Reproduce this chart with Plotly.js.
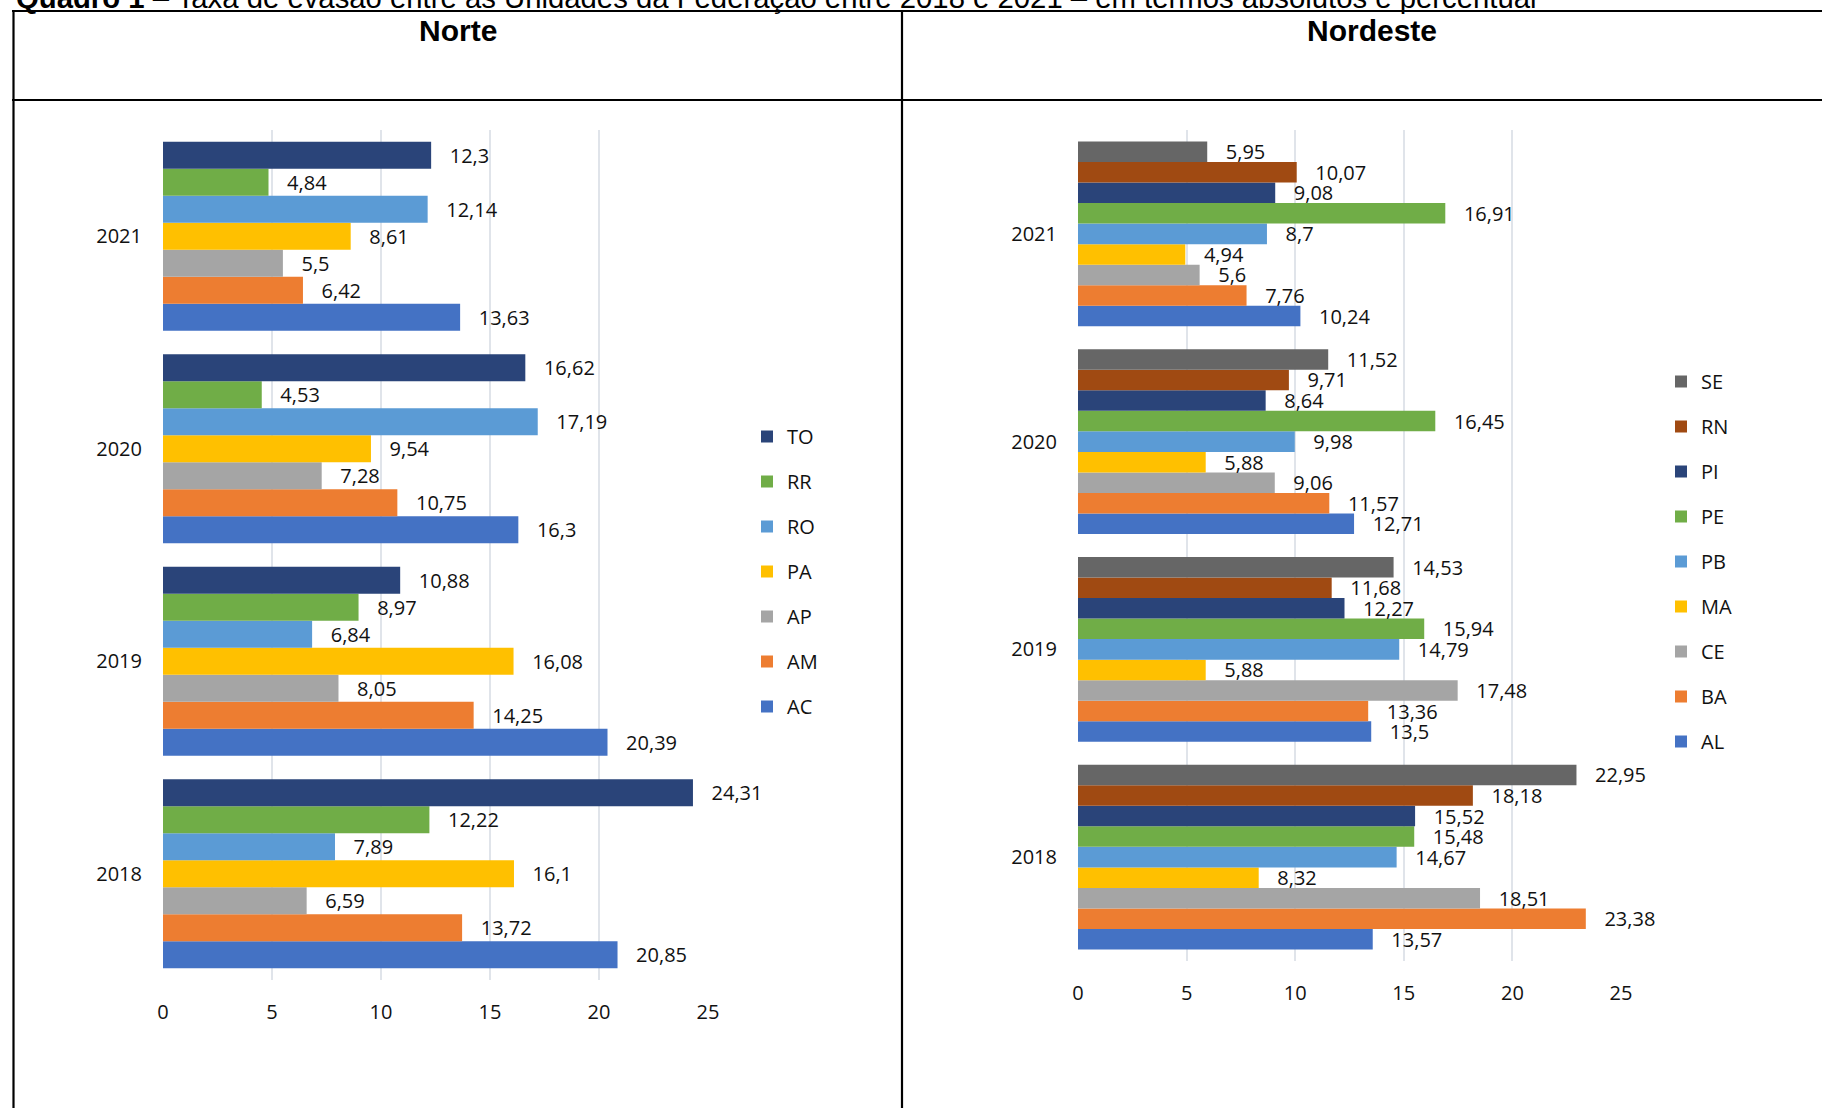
<!DOCTYPE html>
<html>
<head>
<meta charset="utf-8">
<script src="https://cdn.plot.ly/plotly-3.0.1.min.js"></script>
<style>
  html, body { margin: 0; padding: 0; background: #ffffff; }
  #chart { width: 1822px; height: 1108px; }
</style>
</head>
<body>
<div id="chart"></div>
<script>
// ---------- DATA ----------
const years = ['2018', '2019', '2020', '2021'];

// Norte (bottom -> top inside each group)
const norteStates = ['AC', 'AM', 'AP', 'PA', 'RO', 'RR', 'TO'];
const AC = [20.85, 20.39, 16.3, 13.63];
const AM = [13.72, 14.25, 10.75, 6.42];
const AP = [6.59, 8.05, 7.28, 5.5];
const PA = [16.1, 16.08, 9.54, 8.61];
const RO = [7.89, 6.84, 17.19, 12.14];
const RR = [12.22, 8.97, 4.53, 4.84];
const TO = [24.31, 10.88, 16.62, 12.3];
const norteValues = [AC, AM, AP, PA, RO, RR, TO];

// Nordeste (bottom -> top inside each group)
const nordesteStates = ['AL', 'BA', 'CE', 'MA', 'PB', 'PE', 'PI', 'RN', 'SE'];
const AL = [13.57, 13.5, 12.71, 10.24];
const BA = [23.38, 13.36, 11.57, 7.76];
const CE = [18.51, 17.48, 9.06, 5.6];
const MA = [8.32, 5.88, 5.88, 4.94];
const PB = [14.67, 14.79, 9.98, 8.7];
const PE = [15.48, 15.94, 16.45, 16.91];
const PI = [15.52, 12.27, 8.64, 9.08];
const RN = [18.18, 11.68, 9.71, 10.07];
const SE = [22.95, 14.53, 11.52, 5.95];
const nordesteValues = [AL, BA, CE, MA, PB, PE, PI, RN, SE];

const xTicks = [0, 5, 10, 15, 20, 25];

const titleText = '<b>Quadro 1</b> – Taxa de evasão entre as Unidades da Federação entre 2018 e 2021 – em termos absolutos e percentual';
const headers = ['Norte', 'Nordeste'];

// ---------- STYLE ----------
const norteColors = ['#4472C4', '#ED7D31', '#A5A5A5', '#FFC000', '#5B9BD5', '#70AD47', '#2A4479'];
const nordesteColors = ['#4472C4', '#ED7D31', '#A5A5A5', '#FFC000', '#5B9BD5', '#70AD47', '#2A4479', '#A04A12', '#666666'];

const W = 1822, H = 1108;
const px = v => v / W;
const py = v => 1 - v / H;

const FONT = 'Open Sans, Lato, sans-serif';
const NB = '\u00a0\u00a0\u00a0';
const fmt = v => NB + String(v).replace('.', ',');

const traces = [];
function addTraces(names, values, colors, xa, ya, legendName) {
  names.forEach((n, i) => {
    traces.push({
      type: 'bar',
      orientation: 'h',
      name: n,
      x: values[i],
      y: years,
      xaxis: xa,
      yaxis: ya,
      legend: legendName,
      legendgroup: legendName + n,
      legendrank: 1000 - i,
      marker: { color: colors[i], line: { width: 0 } },
      text: values[i].map(fmt),
      textposition: 'outside',
      textfont: { family: FONT, size: 20, color: '#111111' },
      constraintext: 'none',
      cliponaxis: false,
      hoverinfo: 'skip'
    });
  });
}
addTraces(norteStates, norteValues, norteColors, 'x', 'y', 'legend');
addTraces(nordesteStates, nordesteValues, nordesteColors, 'x2', 'y2', 'legend2');

const xAxisBase = {
  range: [0, 25],
  tickmode: 'array',
  tickvals: xTicks,
  ticktext: xTicks.map(String),
  showgrid: true,
  gridcolor: '#e0e4ea',
  gridwidth: 2,
  zeroline: false,
  showline: false,
  ticks: '',
  ticklabelstandoff: 18,
  tickfont: { family: FONT, size: 20, color: '#111111' },
  fixedrange: true
};
const yAxisBase = {
  type: 'category',
  categoryorder: 'array',
  categoryarray: years,
  showgrid: false,
  zeroline: false,
  showline: false,
  ticks: '',
  ticklabelstandoff: 20,
  tickfont: { family: FONT, size: 20, color: '#111111' },
  fixedrange: true
};

const legendBase = {
  orientation: 'v',
  traceorder: 'grouped',
  tracegroupgap: 16,
  font: { family: FONT, size: 20, color: '#111111' },
  bgcolor: 'rgba(0,0,0,0)',
  borderwidth: 0,
  xanchor: 'left',
  yanchor: 'top',
  itemclick: false,
  itemdoubleclick: false
};

const lineStyle = { color: '#000000', width: 2.2 };
const layout = {
  width: W,
  height: H,
  margin: { l: 0, r: 0, t: 0, b: 0 },
  paper_bgcolor: '#ffffff',
  plot_bgcolor: 'rgba(0,0,0,0)',
  showlegend: true,
  barmode: 'group',
  bargap: 0.11,
  bargroupgap: 0,
  xaxis: Object.assign({}, xAxisBase, { domain: [px(163), px(708)], anchor: 'y' }),
  yaxis: Object.assign({}, yAxisBase, { domain: [py(980), py(130)], anchor: 'x' }),
  xaxis2: Object.assign({}, xAxisBase, { domain: [px(1078), px(1621)], anchor: 'y2' }),
  yaxis2: Object.assign({}, yAxisBase, { domain: [py(961), py(130)], anchor: 'x2' }),
  legend: Object.assign({}, legendBase, { x: px(747), y: py(417) }),
  legend2: Object.assign({}, legendBase, { x: px(1661), y: py(362) }),
  shapes: [
    { type: 'line', xref: 'paper', yref: 'paper', x0: px(12), x1: px(1830), y0: py(11), y1: py(11), line: lineStyle },
    { type: 'line', xref: 'paper', yref: 'paper', x0: px(12), x1: px(1830), y0: py(100), y1: py(100), line: lineStyle },
    { type: 'line', xref: 'paper', yref: 'paper', x0: px(13.5), x1: px(13.5), y0: py(10), y1: py(1120), line: lineStyle },
    { type: 'line', xref: 'paper', yref: 'paper', x0: px(902), x1: px(902), y0: py(10), y1: py(1120), line: lineStyle }
  ],
  annotations: [
    { xref: 'paper', yref: 'paper', x: px(14), y: py(16), xanchor: 'left', yanchor: 'bottom',
      text: titleText, showarrow: false,
      font: { family: 'Liberation Sans, Arial, sans-serif', size: 29.3, color: '#000000' } },
    { xref: 'paper', yref: 'paper', x: px(458), y: py(31), xanchor: 'center', yanchor: 'middle',
      text: '<b>' + headers[0] + '</b>', showarrow: false,
      font: { family: 'Liberation Sans, Arial, sans-serif', size: 30, color: '#000000' } },
    { xref: 'paper', yref: 'paper', x: px(1372), y: py(31), xanchor: 'center', yanchor: 'middle',
      text: '<b>' + headers[1] + '</b>', showarrow: false,
      font: { family: 'Liberation Sans, Arial, sans-serif', size: 30, color: '#000000' } }
  ]
};

Plotly.newPlot('chart', traces, layout, { displayModeBar: false, staticPlot: true, responsive: false });
</script>
</body>
</html>
